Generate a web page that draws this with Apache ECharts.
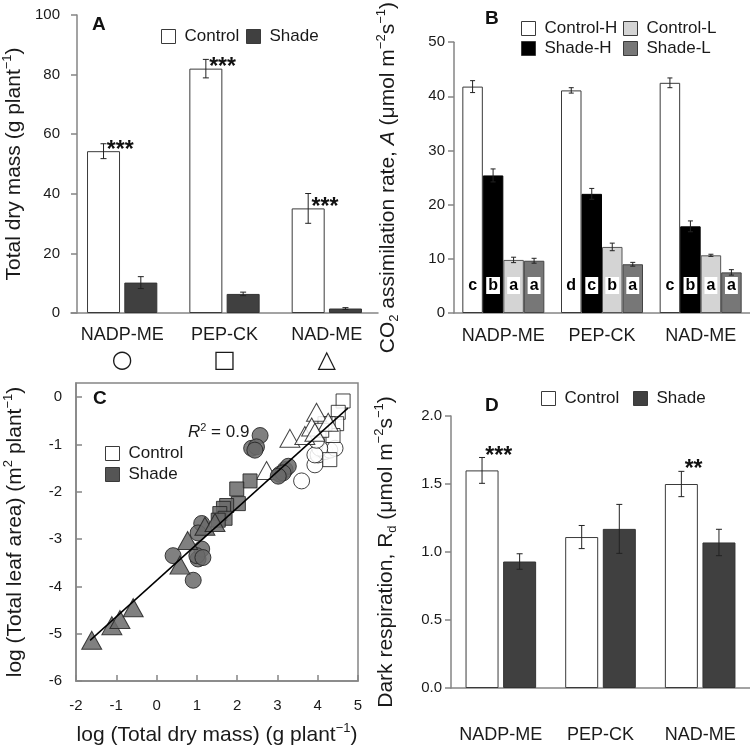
<!DOCTYPE html>
<html><head><meta charset="utf-8">
<script src="https://cdn.jsdelivr.net/npm/echarts@6/dist/echarts.min.js"></script>
<style>html,body{margin:0;padding:0;background:#fff}#c{width:750px;height:749px}</style>
</head><body><div id="c"></div>
<script>
// ---------- data ----------
const categories = ['NADP-ME', 'PEP-CK', 'NAD-ME'];
const typeSymbols = ['○', '□', '△'];
// Panel A: total dry mass
const massControl = [54.3, 82.0, 35.1];
const massControlErr = [2.5, 3.1, 5.0];
const massShade = [10.2, 6.4, 1.5];
const massShadeErr = [2.0, 0.6, 0.3];
const massSig = ['***', '***', '***'];
// Panel B: CO2 assimilation
const aControlH = [41.8, 41.1, 42.5];
const aControlHErr = [1.1, 0.5, 0.9];
const aShadeH = [25.4, 22.0, 16.0];
const aShadeHErr = [1.2, 1.0, 1.0];
const aControlL = [9.8, 12.2, 10.65];
const aControlLErr = [0.5, 0.7, 0.2];
const aShadeL = [9.65, 9.0, 7.5];
const aShadeLErr = [0.45, 0.35, 0.5];
const lettersControlH = ['c', 'd', 'c'];
const lettersShadeH = ['b', 'c', 'b'];
const lettersControlL = ['a', 'b', 'a'];
const lettersShadeL = ['a', 'a', 'a'];
// Panel C: log leaf area vs log dry mass
const ctrlCircle = [[3.6,-1.77],[3.93,-1.43],[4.01,-1.22],[4.18,-1.15],[4.3,-1.12],[4.43,-1.08],[4.05,-1.08],[3.93,-1.22],[3.97,-0.91]];
const ctrlSquare = [[4.63,-0.08],[4.51,-0.32],[4.47,-0.56],[4.26,-0.56],[4.38,-0.81],[4.3,-1.32],[4.18,-0.56],[4.1,-0.7]];
const ctrlTriangle = [[3.97,-0.32],[3.31,-0.87],[3.68,-0.81],[3.85,-0.63],[4.26,-0.53],[3.93,-0.74],[2.73,-1.55]];
const shadeCircle = [[0.41,-3.35],[0.91,-3.87],[1.03,-3.42],[1.12,-3.21],[1.0,-3.35],[1.15,-3.39],[1.12,-2.67],[1.03,-2.87],[2.57,-0.81],[2.36,-1.08],[2.48,-1.05],[2.44,-1.12],[3.06,-1.63],[3.19,-1.53],[3.27,-1.46],[3.14,-1.6],[3.02,-1.67]];
const shadeSquare = [[2.32,-1.77],[1.99,-1.94],[2.03,-2.25],[1.74,-2.29],[1.66,-2.35],[1.57,-2.46],[1.70,-2.56],[1.53,-2.6]];
const shadeTriangle = [[-1.61,-5.14],[-1.11,-4.83],[-0.91,-4.70],[-0.58,-4.45],[0.58,-3.55],[0.77,-3.03],[1.2,-2.73],[1.45,-2.65]];
const fitLine = [[-1.65,-5.14],[4.75,-0.23]];
const r2Text = '0.9';
// Panel D: dark respiration
const rdControl = [1.60, 1.11, 1.50];
const rdControlErr = [0.095, 0.085, 0.093];
const rdShade = [0.93, 1.17, 1.07];
const rdShadeErr = [0.057, 0.18, 0.097];
const rdSig = ['***', '', '**'];

// ---------- styles ----------
const FONT = 'Liberation Sans, Arial, sans-serif';
const TXT = '#1a1a1a';
const AXC = '#858585';
const BORDER = '#3a3a3a';

function errSeries(vals, errs, xi, offset, cap) {
  return {
    type: 'custom', xAxisIndex: xi, yAxisIndex: xi, z: 5, silent: true,
    data: vals.map((v, i) => [i, v, errs[i]]),
    encode: { x: 0, y: 1 },
    renderItem: (params, api) => {
      const i = api.value(0), v = api.value(1), e = api.value(2);
      const t = api.coord([i, v + e]), b = api.coord([i, v - e]);
      const x = t[0] + offset;
      const st = { stroke: '#222', lineWidth: 1 };
      return { type: 'group', children: [
        { type: 'line', shape: { x1: x, y1: t[1], x2: x, y2: b[1] }, style: st },
        { type: 'line', shape: { x1: x - cap, y1: t[1], x2: x + cap, y2: t[1] }, style: st },
        { type: 'line', shape: { x1: x - cap, y1: b[1], x2: x + cap, y2: b[1] }, style: st }
      ] };
    }
  };
}
function leg(name, left, top, color) {
  return { left, top, padding: 0, itemWidth: 14, itemHeight: 14, icon: 'rect', selectedMode: false,
    textStyle: { fontSize: 17, color: TXT, fontFamily: FONT, padding: [0, 0, 0, 4] },
    data: [{ name, itemStyle: { color, borderColor: BORDER, borderWidth: 1 } }] };
}
const richT = {
  sup: { fontSize: 13, lineHeight: 13, verticalAlign: 'top', color: TXT, fontFamily: FONT },
  sub: { fontSize: 13, lineHeight: 13, verticalAlign: 'bottom', color: TXT, fontFamily: FONT },
  i: { fontSize: 21, fontStyle: 'italic', color: TXT, fontFamily: FONT }
};
const nameStyle = { fontSize: 21, color: TXT, fontFamily: FONT, lineHeight: 26, rich: richT };

function catX(gi, margin, extra) {
  return Object.assign({
    type: 'category', gridIndex: gi, data: categories,
    axisLine: { lineStyle: { color: AXC, width: 1.5 } },
    axisTick: { show: false },
    axisLabel: { fontSize: 18, color: TXT, fontFamily: FONT, margin, lineHeight: 20, interval: 0 }
  }, extra || {});
}
function valY(gi, min, max, interval, extra) {
  return Object.assign({
    type: 'value', gridIndex: gi, min, max, interval,
    axisLine: { show: true, onZero: false, lineStyle: { color: AXC, width: 1.5 } },
    axisTick: { show: true, length: 6, lineStyle: { color: AXC, width: 1.5 } },
    splitLine: { show: false },
    axisLabel: { fontSize: 15, color: TXT, fontFamily: FONT, margin: 9 },
    nameLocation: 'middle', nameRotate: 90, nameTextStyle: nameStyle
  }, extra || {});
}

// bar geometry (px)
const bwA = 33, gapA = 4.3, offA = (bwA + gapA) / 2;
const bwB = 20.5;
const bwD = 33, gapD = 4.6, offD = (bwD + gapD) / 2;

const starLabel = (dy) => ({ position: ['60%', dy], align: 'left', verticalAlign: 'middle',
  fontSize: 23, fontWeight: 'bold', color: '#111', fontFamily: FONT });
const letterLabel = { position: 'insideBottom', distance: 19, fontSize: 16, fontWeight: 'bold', color: '#000',
  backgroundColor: '#fff', padding: [1, 2, 0, 2], fontFamily: FONT };

function withLabels(vals, labels) {
  return vals.map((v, i) => ({ value: v, label: { show: !!labels[i], formatter: labels[i] } }));
}

const option = {
  animation: false,
  backgroundColor: '#fff',
  textStyle: { fontFamily: FONT },
  grid: [
    { left: 70, top: 15, width: 308, height: 298 },
    { left: 454, top: 28, width: 296, height: 285 },
    { left: 76, top: 383, width: 282, height: 305, show: true, borderColor: AXC, borderWidth: 1.5 },
    { left: 451, top: 416, width: 306, height: 272 }
  ],
  xAxis: [
    catX(0, 12, { axisLabel: { fontSize: 18, color: TXT, fontFamily: FONT, margin: 12, lineHeight: 20, interval: 0,
      formatter: (v, i) => v + '\n{s|' + typeSymbols[i] + '}',
      rich: { s: { fontSize: 24, lineHeight: 32, fontFamily: 'DejaVu Sans', color: TXT } } } }),
    catX(1, 13),
    { type: 'value', gridIndex: 2, min: -2, max: 5, interval: 1,
      axisLine: { show: true, onZero: false, lineStyle: { color: AXC, width: 1.5 } },
      axisTick: { show: true, inside: true, length: 6, lineStyle: { color: AXC, width: 1.5 } },
      splitLine: { show: false },
      axisLabel: { fontSize: 15, color: TXT, fontFamily: FONT, margin: 17 },
      name: 'log (Total dry mass) (g plant{sup|−1})', nameLocation: 'middle', nameGap: 41,
      nameTextStyle: nameStyle },
    catX(3, 37)
  ],
  yAxis: [
    valY(0, 0, 100, 20, { offset: -6, name: 'Total dry mass (g plant{sup|−1})', nameGap: 50,
      axisLabel: { fontSize: 15, color: TXT, fontFamily: FONT, margin: 17 } }),
    valY(1, 0, 50, 10, { name: 'CO{sub|2} assimilation rate, {i|A} (μmol m{sup|−2}s{sup|−1})', nameGap: 53 }),
    valY(2, -6, 0.3, 1, { name: 'log (Total leaf area) (m{sup|2} plant{sup|−1})', nameGap: 48,
      axisTick: { show: true, inside: true, length: 6, lineStyle: { color: AXC, width: 1.5 } },
      axisLabel: { fontSize: 15, color: TXT, fontFamily: FONT, margin: 14, showMaxLabel: false } }),
    valY(3, 0, 2, 0.5, { name: 'Dark respiration, R{sub|d} (μmol m{sup|−2}s{sup|−1})', nameGap: 52,
      axisLabel: { fontSize: 15, color: TXT, fontFamily: FONT, margin: 9, formatter: v => v.toFixed(1) } })
  ],
  legend: [
    leg('Control', 161, 28, '#fff'),
    leg('Shade', 246, 28, '#404040'),
    leg('Control-H', 521, 20, '#fff'),
    leg('Control-L', 623, 20, '#d4d4d4'),
    leg('Shade-H', 521, 40, '#000'),
    leg('Shade-L', 623, 40, '#777'),
    leg('Control', 105, 445, '#fff'),
    leg('Shade', 105, 466, '#555'),
    leg('Control', 541, 390, '#fff'),
    leg('Shade', 633, 390, '#404040')
  ],
  graphic: [
    { type: 'text', left: 92, top: 15, style: { text: 'A', font: 'bold 19px ' + FONT, fill: '#111' } },
    { type: 'text', left: 485, top: 9, style: { text: 'B', font: 'bold 19px ' + FONT, fill: '#111' } },
    { type: 'text', left: 93, top: 389, style: { text: 'C', font: 'bold 19px ' + FONT, fill: '#111' } },
    { type: 'text', left: 485, top: 396, style: { text: 'D', font: 'bold 19px ' + FONT, fill: '#111' } },
    { type: 'text', left: 188, top: 422, style: { text: '{i|R}{sup|2}{t| = ' + r2Text + '}',
      rich: { i: { fontSize: 17, fontStyle: 'italic', fontFamily: FONT, fill: TXT, lineHeight: 20 },
              sup: { fontSize: 11, fontFamily: FONT, fill: TXT, verticalAlign: 'top', lineHeight: 11 },
              t: { fontSize: 17, fontFamily: FONT, fill: TXT, lineHeight: 20 } } } }
  ],
  series: [
    // Panel A
    { type: 'bar', name: 'Control', xAxisIndex: 0, yAxisIndex: 0, barWidth: bwA, barGap: (gapA / bwA * 100) + '%',
      itemStyle: { color: '#fff', borderColor: BORDER, borderWidth: 1 },
      label: starLabel(-1), data: withLabels(massControl, massSig) },
    { type: 'bar', name: 'Shade', xAxisIndex: 0, yAxisIndex: 0, barWidth: bwA,
      itemStyle: { color: '#404040', borderColor: '#333', borderWidth: 1 }, data: massShade },
    errSeries(massControl, massControlErr, 0, -offA, 3),
    errSeries(massShade, massShadeErr, 0, offA, 3),
    // Panel B
    { type: 'bar', name: 'Control-H', xAxisIndex: 1, yAxisIndex: 1, barWidth: bwB, barGap: '0%',
      itemStyle: { color: '#fff', borderColor: BORDER, borderWidth: 1 }, label: letterLabel,
      data: withLabels(aControlH, lettersControlH) },
    { type: 'bar', name: 'Shade-H', xAxisIndex: 1, yAxisIndex: 1, barWidth: bwB,
      itemStyle: { color: '#000', borderColor: '#000', borderWidth: 1 }, label: letterLabel,
      data: withLabels(aShadeH, lettersShadeH) },
    { type: 'bar', name: 'Control-L', xAxisIndex: 1, yAxisIndex: 1, barWidth: bwB,
      itemStyle: { color: '#d4d4d4', borderColor: '#555', borderWidth: 1 }, label: letterLabel,
      data: withLabels(aControlL, lettersControlL) },
    { type: 'bar', name: 'Shade-L', xAxisIndex: 1, yAxisIndex: 1, barWidth: bwB,
      itemStyle: { color: '#777', borderColor: '#444', borderWidth: 1 }, label: letterLabel,
      data: withLabels(aShadeL, lettersShadeL) },
    errSeries(aControlH, aControlHErr, 1, -1.5 * bwB, 2.5),
    errSeries(aShadeH, aShadeHErr, 1, -0.5 * bwB, 2.5),
    errSeries(aControlL, aControlLErr, 1, 0.5 * bwB, 2.5),
    errSeries(aShadeL, aShadeLErr, 1, 1.5 * bwB, 2.5),
    // Panel C
    { type: 'scatter', name: 'Control', xAxisIndex: 2, yAxisIndex: 2, symbol: 'circle', symbolSize: 16, data: ctrlCircle,
      itemStyle: { color: '#fff', borderColor: '#222', borderWidth: 1, opacity: 0.85 } },
    { type: 'scatter', name: 'Control', xAxisIndex: 2, yAxisIndex: 2, symbol: 'rect', symbolSize: 14, data: ctrlSquare,
      itemStyle: { color: '#fff', borderColor: '#222', borderWidth: 1, opacity: 0.85 } },
    { type: 'scatter', name: 'Control', xAxisIndex: 2, yAxisIndex: 2, symbol: 'triangle', symbolSize: [20, 18], data: ctrlTriangle,
      itemStyle: { color: '#fff', borderColor: '#222', borderWidth: 1, opacity: 0.85 } },
    { type: 'scatter', name: 'Shade', xAxisIndex: 2, yAxisIndex: 2, symbol: 'circle', symbolSize: 16, data: shadeCircle,
      itemStyle: { color: '#6a6a6a', borderColor: '#222', borderWidth: 1, opacity: 0.85 } },
    { type: 'scatter', name: 'Shade', xAxisIndex: 2, yAxisIndex: 2, symbol: 'rect', symbolSize: 14, data: shadeSquare,
      itemStyle: { color: '#6a6a6a', borderColor: '#222', borderWidth: 1, opacity: 0.85 } },
    { type: 'scatter', name: 'Shade', xAxisIndex: 2, yAxisIndex: 2, symbol: 'triangle', symbolSize: [20, 18], data: shadeTriangle,
      itemStyle: { color: '#6a6a6a', borderColor: '#222', borderWidth: 1, opacity: 0.85 } },
    { type: 'line', xAxisIndex: 2, yAxisIndex: 2, data: fitLine, symbol: 'none', silent: true, z: 4,
      lineStyle: { color: '#000', width: 1.5 } },
    // Panel D
    { type: 'bar', name: 'Control', xAxisIndex: 3, yAxisIndex: 3, barWidth: bwD, barGap: (gapD / bwD * 100) + '%',
      itemStyle: { color: '#fff', borderColor: BORDER, borderWidth: 1 },
      label: starLabel(-14), data: withLabels(rdControl, rdSig) },
    { type: 'bar', name: 'Shade', xAxisIndex: 3, yAxisIndex: 3, barWidth: bwD,
      itemStyle: { color: '#404040', borderColor: '#333', borderWidth: 1 }, data: rdShade },
    errSeries(rdControl, rdControlErr, 3, -offD, 3),
    errSeries(rdShade, rdShadeErr, 3, offD, 3)
  ]
};
const chart = echarts.init(document.getElementById('c'), null, { renderer: 'canvas' });
chart.setOption(option);
</script></body></html>
